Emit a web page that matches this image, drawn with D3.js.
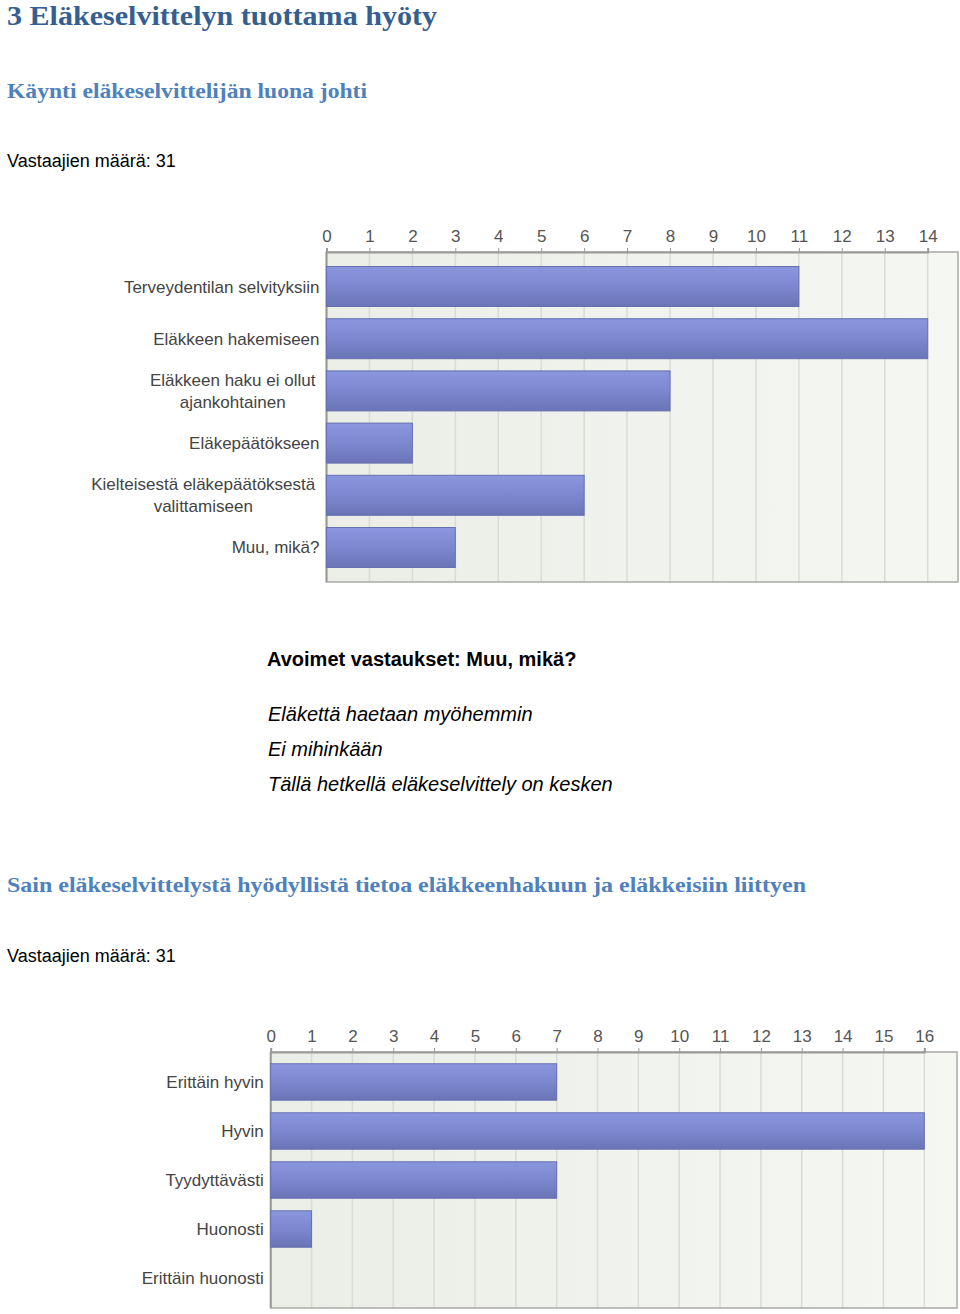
<!DOCTYPE html>
<html><head><meta charset="utf-8">
<script src="https://cdn.jsdelivr.net/npm/d3@7/dist/d3.min.js"></script>
<style>body{margin:0;background:#fff}svg{display:block}</style>
</head><body>
<script>
const chart1Categories = [["Terveydentilan selvityksiin"],["Eläkkeen hakemiseen"],["Eläkkeen haku ei ollut","ajankohtainen"],["Eläkepäätökseen"],["Kielteisestä eläkepäätöksestä","valittamiseen"],["Muu, mikä?"]];
const chart1Values = [11,14,8,2,6,3];
const chart1Ticks = [0,1,2,3,4,5,6,7,8,9,10,11,12,13,14];
const chart2Categories = [["Erittäin hyvin"],["Hyvin"],["Tyydyttävästi"],["Huonosti"],["Erittäin huonosti"]];
const chart2Values = [7,16,7,1,0];
const chart2Ticks = [0,1,2,3,4,5,6,7,8,9,10,11,12,13,14,15,16];
const openAnswers = ["Eläkettä haetaan myöhemmin","Ei mihinkään","Tällä hetkellä eläkeselvittely on kesken"];

const W=960,H=1314;
const svg=d3.select("body").append("svg").attr("width",W).attr("height",H);
const defs=svg.append("defs");
const bg=defs.append("linearGradient").attr("id","bg").attr("x1",0).attr("x2",1).attr("y1",0).attr("y2",0);
bg.append("stop").attr("offset",0).attr("stop-color","#ebede7");
bg.append("stop").attr("offset",1).attr("stop-color","#f5f7f3");
const bar=defs.append("linearGradient").attr("id","bar").attr("x1",0).attr("x2",0).attr("y1",0).attr("y2",1);
bar.append("stop").attr("offset",0).attr("stop-color","#8a96de");
bar.append("stop").attr("offset",0.5).attr("stop-color","#7c87cf");
bar.append("stop").attr("offset",1).attr("stop-color","#6a74b6");

const serif="'Liberation Serif','DejaVu Serif',serif";
const sans="'Liberation Sans',Arial,sans-serif";

svg.append("text").attr("x",7).attr("y",25).attr("font-family",serif).attr("font-weight","bold")
  .attr("font-size",27).attr("fill","#365f91").attr("textLength",430).attr("lengthAdjust","spacingAndGlyphs")
  .text("3 Eläkeselvittelyn tuottama hyöty");
svg.append("text").attr("x",7).attr("y",98).attr("font-family",serif).attr("font-weight","bold")
  .attr("font-size",22).attr("fill","#4f81bd").attr("textLength",360).attr("lengthAdjust","spacingAndGlyphs")
  .text("Käynti eläkeselvittelijän luona johti");
svg.append("text").attr("x",7).attr("y",167).attr("font-family",sans)
  .attr("font-size",18).attr("fill","#000").text("Vastaajien määrä: 31");

svg.append("text").attr("x",267).attr("y",666).attr("font-family",sans).attr("font-weight","bold")
  .attr("font-size",20).attr("fill","#000").text("Avoimet vastaukset: Muu, mikä?");
svg.selectAll("text.open").data(openAnswers).join("text").attr("class","open")
  .attr("x",268).attr("y",(d,i)=>721+i*35).attr("font-family",sans).attr("font-style","italic")
  .attr("font-size",20).attr("fill","#000").text(d=>d);

svg.append("text").attr("x",7).attr("y",892).attr("font-family",serif).attr("font-weight","bold")
  .attr("font-size",22).attr("fill","#4f81bd").attr("textLength",799).attr("lengthAdjust","spacingAndGlyphs")
  .text("Sain eläkeselvittelystä hyödyllistä tietoa eläkkeenhakuun ja eläkkeisiin liittyen");
svg.append("text").attr("x",7).attr("y",962).attr("font-family",sans)
  .attr("font-size",18).attr("fill","#000").text("Vastaajien määrä: 31");

function drawChart(o){
  const g=svg.append("g");
  const x=d3.scaleLinear().domain([0,o.max]).range([o.x0,o.x1]);
  const y=d3.scaleBand().domain(d3.range(o.values.length)).range([o.top,o.bottom])
    .paddingInner(o.pi).paddingOuter(o.po);
  g.append("rect").attr("x",o.x0).attr("y",o.top).attr("width",o.right-o.x0).attr("height",o.bottom-o.top)
    .attr("fill","url(#bg)");
  g.selectAll("line.grid").data(o.ticks.slice(1)).join("line").attr("class","grid")
    .attr("x1",d=>x(d)).attr("x2",d=>x(d)).attr("y1",o.top).attr("y2",o.bottom)
    .attr("stroke","#d9dcd6").attr("stroke-width",1.5);
  g.append("rect").attr("x",o.x0).attr("y",o.top).attr("width",o.right-o.x0).attr("height",o.bottom-o.top)
    .attr("fill","none").attr("stroke","#a9aaa8").attr("stroke-width",1.5);
  g.append("line").attr("x1",o.x0).attr("x2",o.x0).attr("y1",o.top).attr("y2",o.bottom)
    .attr("stroke","#9a9b99").attr("stroke-width",2);
  const ax=g.append("g").attr("transform",`translate(0,${o.top})`)
    .call(d3.axisTop(x).tickValues(o.ticks).tickSize(4).tickPadding(6).tickFormat(d3.format("d")));
  ax.select(".domain").attr("stroke","#9a9b99").attr("stroke-width",2);
  ax.selectAll(".tick line").attr("stroke","#9a9b99");
  ax.selectAll(".tick text").attr("font-family",sans).attr("font-size",17).attr("fill","#555");
  g.selectAll("rect.bar").data(o.values).join("rect").attr("class","bar")
    .attr("x",x(0)).attr("y",(d,i)=>y(i)).attr("height",y.bandwidth())
    .attr("width",d=>Math.max(0,x(d)-x(0))).attr("fill","url(#bar)")
    .attr("stroke",d=>d>0?"#6670b0":"none").attr("stroke-width",1);
  o.cats.forEach((lines,i)=>{
    const cy=y(i)+y.bandwidth()/2;
    if(lines.length===1){
      g.append("text").attr("x",o.x0-7).attr("y",cy+6).attr("text-anchor","end")
        .attr("font-family",sans).attr("font-size",17).attr("fill","#444").text(lines[0]);
    } else {
      const t=g.append("text").attr("font-family",sans).attr("font-size",17).attr("fill","#444")
        .attr("text-anchor","middle");
      lines.forEach((l,j)=>t.append("tspan").attr("x",0).attr("y",cy+6+(j-(lines.length-1)/2)*22).text(l));
      const bb=t.node().getBBox();
      t.attr("transform",`translate(${o.x0-11-bb.width/2},0)`);
    }
  });
}

drawChart({values:chart1Values,cats:chart1Categories,ticks:chart1Ticks,max:14,
  x0:326.5,x1:927.7,right:958,top:252,bottom:582,pi:0.234,po:0.278});
drawChart({values:chart2Values,cats:chart2Categories,ticks:chart2Ticks,max:16,
  x0:270.7,x1:924.3,right:957,top:1052,bottom:1308,pi:0.257,po:0.24});
</script>
</body></html>
